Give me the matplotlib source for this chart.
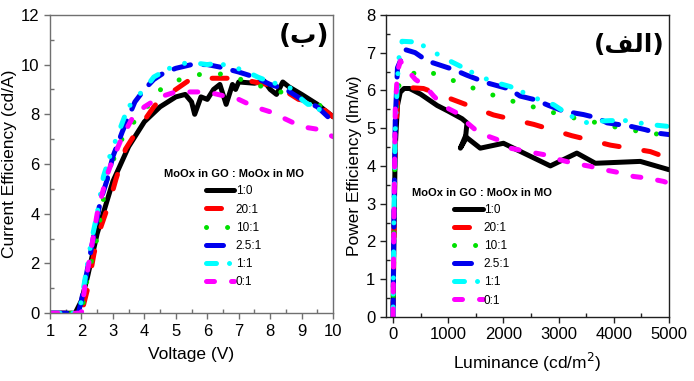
import numpy as np
import matplotlib
matplotlib.use('Agg')
import matplotlib.pyplot as plt
from matplotlib.ticker import MultipleLocator
from matplotlib import font_manager

# --- font: prefer a narrow Arial-like face ---
names = {f.name for f in font_manager.fontManager.ttflist}
base = 'Liberation Sans Narrow' if 'Liberation Sans Narrow' in names else 'Liberation Sans'
plt.rcParams['font.family'] = [base, 'DejaVu Sans']

labels = ['1:0', '20:1', '10:1', '2.5:1', '1:1', '0:1']
colors = ['black', '#ff0000', '#00e000', '#0000ee', '#00ffff', '#ff00ff']

# --- Current efficiency vs voltage (left panel) ---
v_10 = [1.0, 1.8, 2.0, 2.2, 2.5, 3.0, 3.5, 4.0, 4.5, 5.0, 5.3, 5.5, 5.6, 5.8, 6.0, 6.2, 6.4, 6.6,
        6.8, 6.9, 7.0, 7.5, 7.8, 8.0, 8.2, 8.4, 8.6, 9.0, 9.5, 10.0]
ce_10 = [0.0, 0.0, 0.5, 1.5, 3.2, 5.3, 6.7, 7.7, 8.3, 8.7, 8.8, 8.5, 8.0, 8.7, 8.6, 9.0, 9.2, 8.4,
         9.2, 9.0, 9.3, 9.25, 9.35, 9.0, 8.8, 9.3, 9.1, 8.8, 8.4, 7.9]
v_20 = [1.0, 2.0, 2.2, 2.4, 2.6, 2.9, 3.1, 3.4, 3.8, 4.3, 4.5, 5.0, 5.4, 6.0, 6.7, 7.3, 7.9, 8.4, 8.9, 9.4, 10.0]
ce_20 = [0.0, 0.0, 1.0, 2.4, 3.4, 4.5, 5.4, 6.6, 7.4, 8.3, 8.6, 9.0, 9.35, 9.45, 9.45, 9.35, 9.2, 9.0, 8.6, 8.5, 7.9]
v_10b = [1.0, 2.0, 2.2, 2.46, 2.78, 3.15, 3.43, 3.8, 4.03, 4.5, 5.16, 5.82, 6.47, 7.13, 7.8, 8.44, 9.04, 9.47, 10.0]
ce_10b = [0.0, 0.0, 1.5, 2.8, 5.2, 6.7, 7.3, 7.9, 8.2, 8.98, 9.42, 9.62, 9.62, 9.38, 9.09, 8.86, 8.62, 8.5, 7.8]
v_25 = [1.0, 1.9, 2.0, 2.3, 2.6, 2.8, 3.0, 3.3, 3.5, 3.7, 4.0, 4.3, 4.6, 5.0, 5.5, 6.0, 6.4, 7.0, 7.5,
        8.0, 8.5, 9.0, 9.5, 10.0]
ce_25 = [0.0, 0.0, 0.5, 2.5, 4.5, 5.3, 6.3, 7.3, 7.9, 8.5, 9.0, 9.4, 9.65, 9.85, 10.0, 10.0, 9.9, 9.7, 9.5,
         9.2, 9.0, 8.6, 8.3, 7.7]
v_11 = [1.0, 1.9, 2.0, 2.3, 2.5, 2.7, 2.9, 3.1, 3.4, 3.6, 4.0, 4.3, 4.8, 5.2, 5.7, 6.0, 6.3, 6.7, 7.2,
        7.6, 8.0, 8.6, 9.0, 9.2, 9.5, 9.7]
ce_11 = [0.0, 0.0, 0.5, 2.8, 4.0, 5.5, 6.3, 7.0, 8.0, 8.5, 9.0, 9.5, 9.85, 10.05, 10.05, 10.0, 10.05, 9.95, 9.75,
         9.5, 9.3, 9.1, 8.6, 8.4, 8.4, 7.7]
v_01 = [1.0, 2.0, 2.1, 2.3, 2.5, 2.8, 3.0, 3.3, 3.6, 4.0, 4.5, 5.0, 6.0, 6.5, 7.0, 7.5, 8.0, 8.5, 9.0, 9.5, 10.0]
ce_01 = [0.0, 0.0, 1.0, 2.5, 4.0, 5.5, 6.2, 7.1, 7.8, 8.3, 8.7, 8.9, 8.9, 8.75, 8.6, 8.3, 8.1, 7.8, 7.5, 7.4, 7.1]

# --- Power efficiency vs luminance (right panel) ---
l_10 = [0, 15, 40, 80, 130, 200, 300, 500, 800, 1000, 1250, 1340, 1310, 1220, 1310, 1580, 2000,
        2850, 3330, 3665, 4480, 5000]
pe_10 = [0.0, 2.0, 4.5, 5.6, 5.95, 6.05, 6.05, 5.9, 5.6, 5.45, 5.25, 5.14, 4.7, 4.47, 4.78, 4.47, 4.6,
         4.0, 4.34, 4.07, 4.12, 3.9]
l_20 = [0, 15, 40, 80, 150, 220, 550, 1240, 1820, 2550, 3240, 3940, 4660, 5000]
pe_20 = [0.0, 2.0, 4.6, 5.7, 6.0, 6.08, 6.05, 5.67, 5.35, 5.1, 4.8, 4.55, 4.38, 4.2]
l_10b = [0, 15, 40, 80, 145, 525, 918, 1268, 1640, 2005, 2400, 2770, 3140, 3530, 3895, 4270, 4660, 5000]
pe_10b = [0.0, 2.2, 4.8, 6.0, 6.3, 6.55, 6.36, 6.16, 5.96, 5.78, 5.62, 5.47, 5.31, 5.2, 5.07, 4.96, 4.87, 4.8]
l_25 = [0, 15, 40, 80, 220, 400, 620, 1100, 1340, 1700, 2100, 2300, 2580, 2820, 3090, 3450, 3700,
        3880, 4300, 4570, 4780, 5000]
pe_25 = [0.0, 2.5, 5.2, 6.6, 7.08, 7.0, 6.78, 6.55, 6.4, 6.2, 6.04, 5.85, 5.75, 5.6, 5.45, 5.36, 5.27,
         5.14, 5.05, 4.96, 4.87, 4.83]
l_11 = [0, 15, 40, 100, 163, 435, 665, 918, 1220, 1400, 1640, 1880, 2125, 2430, 2640, 2910, 3180,
        3450, 3665, 3940, 4240, 4450, 4700, 4960]
pe_11 = [0.0, 2.5, 5.0, 6.8, 7.3, 7.28, 7.08, 6.86, 6.64, 6.5, 6.33, 6.2, 6.1, 5.9, 5.76, 5.62, 5.36,
         5.14, 5.18, 5.2, 5.2, 5.14, 5.09, 5.05]
l_01 = [0, 15, 40, 80, 133, 223, 405, 585, 737, 918, 1160, 1280, 1490, 1733, 1884, 2125, 2430, 2730,
        2850, 3030, 3270, 3570, 3820, 4000, 4180, 4360, 4600, 4900, 5000]
pe_01 = [0.0, 2.5, 5.5, 6.5, 6.78, 6.6, 6.29, 6.11, 5.85, 5.58, 5.4, 5.22, 4.96, 4.78, 4.7, 4.47, 4.38,
         4.3, 4.25, 4.16, 4.07, 3.99, 3.9, 3.85, 3.8, 3.72, 3.68, 3.59, 3.54]

ce_x = [v_10, v_20, v_10b, v_25, v_11, v_01]
ce_y = [ce_10, ce_20, ce_10b, ce_25, ce_11, ce_01]
pe_x = [l_10, l_20, l_10b, l_25, l_11, l_01]
pe_y = [pe_10, pe_20, pe_10b, pe_25, pe_11, pe_01]

# line style per series (dash pattern in units of lw, None = solid)
lw = 3.6
dash = [None, (3.0, 5.0), (0.01, 4.2), (3.4, 2.6), (2.0, 2.6, 0.01, 3.2, 0.01, 3.2), (1.6, 3.4)]


def draw(ax, xs, ys):
    for x, y, c, d, lab in zip(xs, ys, colors, dash, labels):
        line, = ax.plot(x, y, color=c, lw=lw, label=lab,
                        solid_capstyle='round', dash_capstyle='round')
        if d is not None:
            line.set_dashes(d)


def style(ax, spine_color):
    for s in ax.spines.values():
        s.set_color(spine_color)
        s.set_linewidth(1.0)
    ax.tick_params(which='major', direction='out', length=4, width=1, labelsize=12,
                   colors=spine_color, labelcolor='black')
    ax.tick_params(which='minor', direction='in', length=3, width=1, colors=spine_color)
    ax.tick_params(top=False, right=False, which='both')


def add_legend(ax, anchor):
    leg = ax.legend(loc='upper center', bbox_to_anchor=anchor, frameon=False,
                    title='MoOx in GO : MoOx in MO', fontsize=8.5, handlelength=2.4,
                    handletextpad=0.1, labelspacing=0.52, borderpad=0.2)
    leg.get_title().set_fontweight('bold')
    leg.get_title().set_fontsize(8)
    return leg


fig = plt.figure(figsize=(6.94, 3.81), dpi=100)

ax1 = fig.add_axes([0.072, 0.178, 0.408, 0.783])
draw(ax1, ce_x, ce_y)
ax1.set_xlim(1, 10)
ax1.set_ylim(0, 12)
ax1.xaxis.set_major_locator(MultipleLocator(1))
ax1.xaxis.set_minor_locator(MultipleLocator(0.5))
ax1.yaxis.set_major_locator(MultipleLocator(2))
ax1.yaxis.set_minor_locator(MultipleLocator(1))
style(ax1, '#707070')
ax1.set_xlabel('Voltage (V)', fontsize=12.5, labelpad=6)
ax1.set_ylabel('Current Efficiency (cd/A)', fontsize=12.5, labelpad=3)
ax1.text(0.985, 0.93, '(ب)', transform=ax1.transAxes, ha='right', va='center',
         fontsize=19, fontweight='bold', family=['DejaVu Sans'])
add_legend(ax1, (0.65, 0.51))

ax2 = fig.add_axes([0.556, 0.168, 0.408, 0.793])
draw(ax2, pe_x, pe_y)
ax2.set_xlim(-130, 5000)
ax2.set_ylim(0, 8)
ax2.xaxis.set_major_locator(MultipleLocator(1000))
ax2.xaxis.set_minor_locator(MultipleLocator(500))
ax2.yaxis.set_major_locator(MultipleLocator(1))
ax2.yaxis.set_minor_locator(MultipleLocator(0.5))
style(ax2, '#202020')
ax2.set_xlabel('Luminance (cd/m$^2$)', fontsize=12.5, labelpad=6)
ax2.set_ylabel('Power Efficiency (lm/w)', fontsize=12.5, labelpad=3)
# visual-order presentation forms so the word shows joined without a shaper
ax2.text(0.985, 0.9, '(\ufed2\ufedf\ufe8d)', transform=ax2.transAxes, ha='right', va='center',
         fontsize=18, fontweight='bold', family=['DejaVu Sans'])
add_legend(ax2, (0.34, 0.455))

fig.savefig('out.png', dpi=100)
